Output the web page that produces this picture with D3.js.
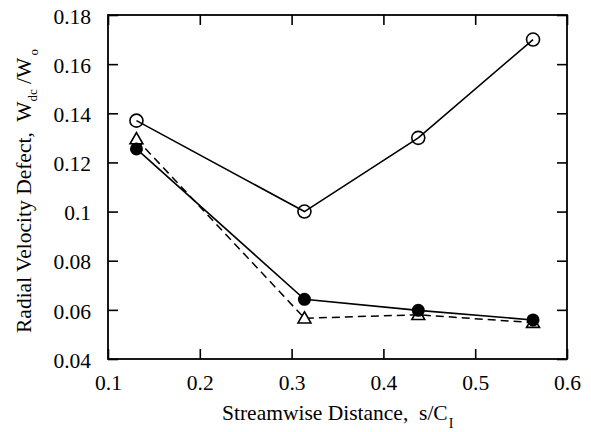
<!DOCTYPE html>
<html><head><meta charset="utf-8">
<script src="https://cdn.jsdelivr.net/npm/d3@7"></script>
<style>body{margin:0;background:#fff}svg{display:block}text{font-family:"Liberation Serif","Times New Roman",serif;fill:#000}</style>
</head><body>
<script>
const xs = [0.131, 0.314, 0.438, 0.563];
const openCircle = [0.137, 0.100, 0.130, 0.170];
const filledCircle = [0.1255, 0.0643, 0.0598, 0.0559];
const triangle = [0.1295, 0.0566, 0.0580, 0.0548];
const xTicks = [0.1, 0.2, 0.3, 0.4, 0.5, 0.6];
const yTicks = [0.04, 0.06, 0.08, 0.1, 0.12, 0.14, 0.16, 0.18];

const W = 591, H = 432;
const m = {l:108, r:24, t:15, b:73};
const svg = d3.select("body").append("svg").attr("width", W).attr("height", H);
const x = d3.scaleLinear().domain([0.1, 0.6]).range([m.l, W - m.r]);
const y = d3.scaleLinear().domain([0.04, 0.18]).range([H - m.b, m.t]);
const fmt = d => String(+d.toFixed(2));

const tl = 10;
const gx = svg.append("g").attr("transform", `translate(0,${H-m.b})`)
  .call(d3.axisBottom(x).tickValues(xTicks).tickFormat(fmt).tickSizeInner(-tl).tickSizeOuter(0).tickPadding(16));
const gxt = svg.append("g").attr("transform", `translate(0,${m.t})`)
  .call(d3.axisTop(x).tickValues(xTicks).tickFormat("").tickSizeInner(-tl).tickSizeOuter(0));
const gy = svg.append("g").attr("transform", `translate(${m.l},0)`)
  .call(d3.axisLeft(y).tickValues(yTicks).tickFormat(fmt).tickSizeInner(-tl).tickSizeOuter(0).tickPadding(17));
const gyr = svg.append("g").attr("transform", `translate(${W-m.r},0)`)
  .call(d3.axisRight(y).tickValues(yTicks).tickFormat("").tickSizeInner(-tl).tickSizeOuter(0));
[gx,gxt,gy,gyr].forEach(g => {
  g.attr("font-family", null);
  g.select(".domain").remove();
  g.selectAll("line").attr("stroke","#000").attr("stroke-width",1.6);
  g.selectAll("text").attr("font-size", 21.5);
});
gy.selectAll("text").attr("dy","0.38em");
svg.append("rect").attr("x", m.l).attr("y", m.t).attr("width", W-m.l-m.r).attr("height", H-m.t-m.b)
  .attr("fill","none").attr("stroke","#000").attr("stroke-width",1.8);

const line = vals => d3.line().x((d,i)=>x(xs[i])).y(d=>y(d))(vals);

svg.append("path").attr("d", line(triangle)).attr("fill","none").attr("stroke","#000").attr("stroke-width",1.5).attr("stroke-dasharray","8,5");
svg.append("path").attr("d", line(filledCircle)).attr("fill","none").attr("stroke","#000").attr("stroke-width",1.6);
svg.append("path").attr("d", line(openCircle)).attr("fill","none").attr("stroke","#000").attr("stroke-width",1.6);

const tri = d3.symbol().type(d3.symbolTriangle).size(72);
svg.selectAll(".tri").data(triangle).enter().append("path")
  .attr("transform",(d,i)=>`translate(${x(xs[i])},${y(d)+1})`).attr("d", tri())
  .attr("fill","#fff").attr("stroke","#000").attr("stroke-width",1.6);
svg.selectAll(".fc").data(filledCircle).enter().append("circle")
  .attr("cx",(d,i)=>x(xs[i])).attr("cy",d=>y(d)).attr("r",6.5).attr("fill","#000");
svg.selectAll(".oc").data(openCircle).enter().append("circle")
  .attr("cx",(d,i)=>x(xs[i])).attr("cy",d=>y(d)).attr("r",6.5).attr("fill","none").attr("stroke","#000").attr("stroke-width",1.6);

const xt = svg.append("text").attr("x", 222).attr("y", 420).attr("text-anchor","start").attr("font-size",21.5);
xt.append("tspan").text("Streamwise Distance,\u00A0 s/C");
xt.append("tspan").attr("font-size",14).attr("dy",8).attr("dx",1).text("I");

const yt = svg.append("text").attr("transform",`translate(31,333) rotate(-90)`).attr("text-anchor","start").attr("font-size",21.5);
yt.append("tspan").text("Radial Velocity Defect,\u00A0 W");
yt.append("tspan").attr("font-size",13).attr("dy",6).text("dc");
yt.append("tspan").attr("dy",-6).text("\u00A0/W");
yt.append("tspan").attr("font-size",13).attr("dy",7).attr("dx",2).text("o");
</script>
</body></html>
